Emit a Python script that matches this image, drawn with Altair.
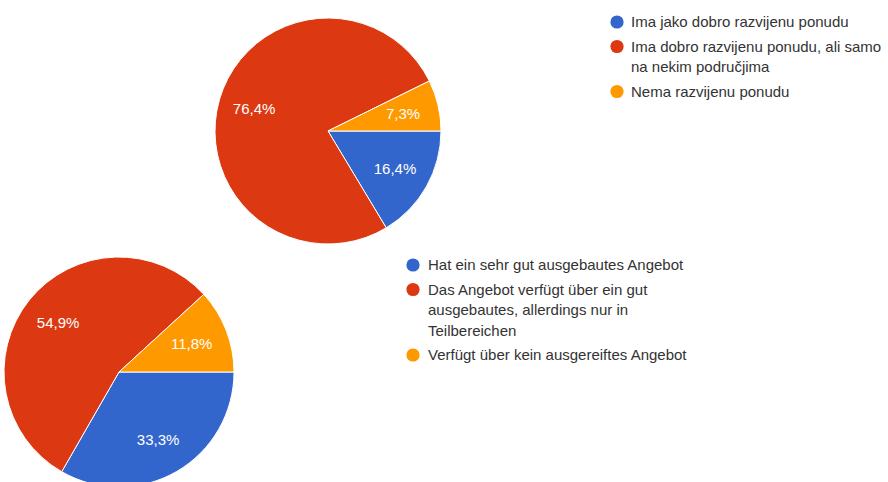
import math
import altair as alt
import pandas as pd

# ---- data ----
top_lines = [
    ["Ima jako dobro razvijenu ponudu"],
    ["Ima dobro razvijenu ponudu, ali samo", "na nekim područjima"],
    ["Nema razvijenu ponudu"],
]
top_values = [16.4, 76.4, 7.3]

bottom_lines = [
    ["Hat ein sehr gut ausgebautes Angebot"],
    ["Das Angebot verfügt über ein gut", "ausgebautes, allerdings nur in", "Teilbereichen"],
    ["Verfügt über kein ausgereiftes Angebot"],
]
bottom_values = [33.3, 54.9, 11.8]

colors = ["#3366CC", "#DC3912", "#FF9900"]

FONT = "Liberation Sans"
W, H = 888, 482


def pie_df(values):
    return pd.DataFrame({
        "idx": list(range(len(values))),
        "value": values,
        "label": [f"{v:.1f}".replace(".", ",") + "%" for v in values],
    })


def pie(values, cx, cy, r, label_r):
    df = pie_df(values)
    theta = alt.Theta("value:Q", stack=True,
                      scale=alt.Scale(range=[math.pi / 2, math.pi / 2 + 2 * math.pi]))
    color = alt.Color("idx:O", scale=alt.Scale(domain=[0, 1, 2], range=colors), legend=None)
    arc = alt.Chart(df).mark_arc(outerRadius=r, stroke="white", strokeWidth=1).encode(
        theta=theta, color=color, order=alt.Order("idx:Q"),
        x=alt.value(cx), y=alt.value(cy),
    )
    txt = alt.Chart(df).mark_text(radius=label_r, fontSize=15, font=FONT, color="white").encode(
        theta=theta, order=alt.Order("idx:Q"), text="label:N",
        x=alt.value(cx), y=alt.value(cy),
    )
    return [arc, txt]


def legend_layers(lines, dot_x, text_x, y0, line_h=20.5, item_step=24.5):
    dots, texts = [], []
    y = y0
    for i, item in enumerate(lines):
        dots.append({"x": dot_x, "y": y, "color": colors[i]})
        for j, ln in enumerate(item):
            texts.append({"x": text_x, "y": y + j * line_h, "t": ln})
        y += (len(item) - 1) * line_h + item_step
    ddf = pd.DataFrame(dots)
    tdf = pd.DataFrame(texts)
    d = alt.Chart(ddf).mark_point(filled=True, shape="circle", size=175, opacity=1).encode(
        x=alt.X("x:Q", scale=None), y=alt.Y("y:Q", scale=None),
        color=alt.Color("color:N", scale=None),
    )
    t = alt.Chart(tdf).mark_text(align="left", baseline="middle", fontSize=15, font=FONT,
                                 color="#333333").encode(
        x=alt.X("x:Q", scale=None), y=alt.Y("y:Q", scale=None), text="t:N",
    )
    return [d, t]


layers = []
layers += pie(top_values, 328, 131, 113, 77)
layers += pie(bottom_values, 119, 372, 115, 78)
layers += legend_layers(top_lines, 617, 631, 22)
layers += legend_layers(bottom_lines, 413, 428, 265)

chart = alt.layer(*layers).resolve_scale(theta="independent").properties(
    width=W, height=H, padding=0, autosize="none", background="white"
).configure_view(stroke=None)

chart.save("out.html", embed_options={"renderer": "svg", "actions": False})
